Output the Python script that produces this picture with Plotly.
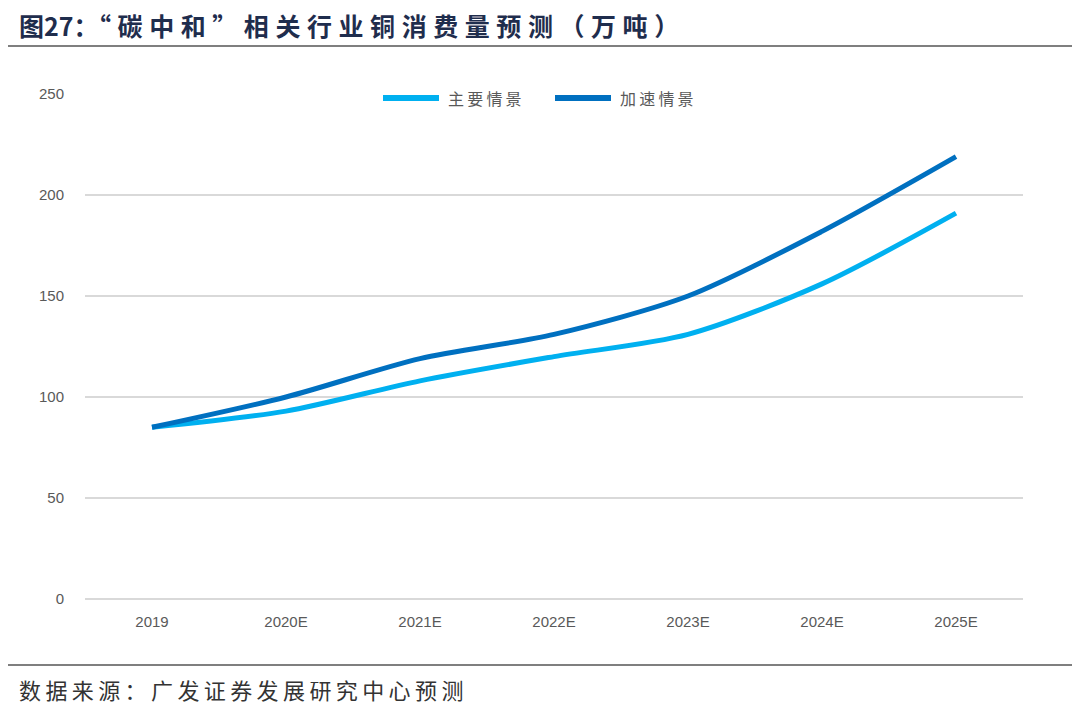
import plotly.graph_objects as go

categories = ["2019", "2020E", "2021E", "2022E", "2023E", "2024E", "2025E"]
main_scenario = [85, 93, 108, 120, 131, 156, 191]
accel_scenario = [85, 100, 119, 131, 150, 182, 219]
series_names = ["主要情景", "加速情景"]
series_colors = ["#00B0F0", "#0070C0"]
y_ticks = [0, 50, 100, 150, 200, 250]

# The page places the figure 8px in from the window's top-left corner,
# so work in window pixels and subtract that offset.
OFF = 8
W, H = 1080 - OFF, 707 - OFF
PL, PR, PT, PB = 85, 1023, 94, 599  # plot area in window pixels
L, R, T, B = PL - OFF, W - (PR - OFF), PT - OFF, H - (PB - OFF)
pw = W - L - R
ph = H - T - B

TS = "\u2009"  # thin space for CJK letter spacing
HS = "\u200a"  # hair space


def spaced(s, sep=TS):
    return sep.join(list(s))


def px_x(X):
    return (X - OFF - L) / pw


def px_y(Y):
    return 1 - (Y - OFF - T) / ph


fig = go.Figure()
for name, vals, col in zip(series_names, [main_scenario, accel_scenario], series_colors):
    fig.add_trace(go.Scatter(x=categories, y=vals, name=name, mode="lines", showlegend=False,
                             line=dict(color=col, width=5, shape="spline", smoothing=0.8)))

fig.update_layout(
    width=W, height=H,
    margin=dict(l=L, r=R, t=T, b=B, autoexpand=False),
    paper_bgcolor="white", plot_bgcolor="white",
    showlegend=False,
    xaxis=dict(type="category", range=[-0.5, 6.5], showgrid=False, zeroline=False, showline=False,
               ticks="", automargin=False,
               tickfont=dict(family="Liberation Sans, Arial", size=15, color="#595959"),
               ticklabelstandoff=12),
    yaxis=dict(range=[0, 250], tickvals=y_ticks, showgrid=True, gridcolor="#D9D9D9", gridwidth=2,
               zeroline=True, zerolinecolor="#D9D9D9", zerolinewidth=2, showline=False, ticks="",
               automargin=False,
               tickfont=dict(family="Liberation Sans, Arial", size=15, color="#595959"),
               ticklabelstandoff=20),
    font=dict(family="Noto Sans CJK SC"),
)

# Legend (manual, to match sample length)
legend_items = [(380, 442, 446), (552, 614, 618)]
for (x0, x1, tx), name, col in zip(legend_items, series_names, series_colors):
    fig.add_shape(type="line", xref="paper", yref="paper",
                  x0=px_x(x0 + 3), x1=px_x(x1 - 3), y0=px_y(98), y1=px_y(98),
                  line=dict(color=col, width=6))
    fig.add_annotation(text=spaced(name), xref="paper", yref="paper", x=px_x(tx), y=px_y(98),
                       xanchor="left", yanchor="middle", showarrow=False,
                       font=dict(family="Noto Sans CJK SC", size=16, color="#595959"))

# Title and source
fig.add_annotation(text="<b>" + "图27：" + spaced("“碳中和”相关行业铜消费量预测（万吨）", TS + HS) + "</b>",
                   xref="paper", yref="paper", borderpad=0,
                   x=px_x(18), y=px_y(25), xanchor="left", yanchor="middle",
                   showarrow=False, font=dict(family="Noto Sans CJK SC", size=25, color="#1F2D4D"))
fig.add_annotation(text=spaced("数据来源：广发证券发展研究中心预测"), xref="paper", yref="paper",
                   x=px_x(18), y=px_y(689), borderpad=0,
                   xanchor="left", yanchor="middle", showarrow=False,
                   font=dict(family="Noto Sans CJK SC", size=22, color="#333333"))

# Header / footer rules
fig.add_shape(type="line", xref="paper", yref="paper",
              x0=px_x(0) - 0.05, x1=px_x(1080) + 0.05, y0=px_y(46), y1=px_y(46),
              line=dict(color="#555555", width=1.5))
fig.add_shape(type="line", xref="paper", yref="paper",
              x0=px_x(0) - 0.05, x1=px_x(1080) + 0.05, y0=px_y(665), y1=px_y(665),
              line=dict(color="#555555", width=1.5))

fig.write_html("out.html")
